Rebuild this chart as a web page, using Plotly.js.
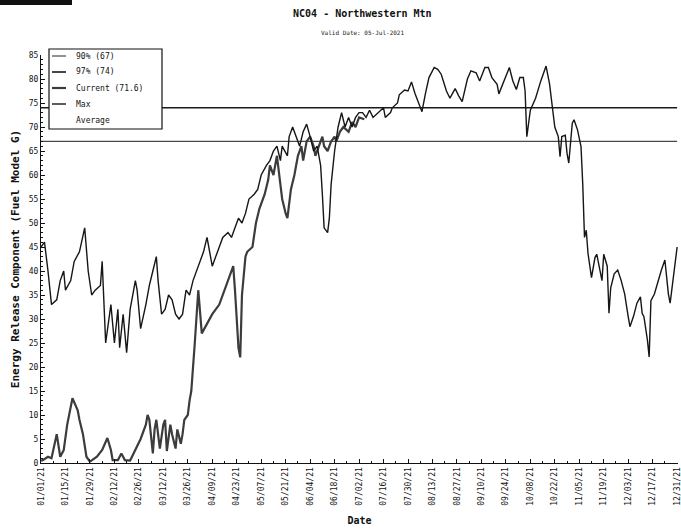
<!DOCTYPE html>
<html>
<head>
<meta charset="utf-8">
<script src="https://cdn.plot.ly/plotly-3.0.1.min.js"></script>
<style>html,body{margin:0;padding:0;background:#fff}#chart{width:681px;height:531px}</style>
</head>
<body>
<div id="chart"></div>
<script>
// ---- data (day of year 2021, 0 = Jan 1) ----
const maxDay = [0,2,4,6,9,11,13,14,17,19,22,25,27,29,31,34,35,37,40,42,44,45,47,49,51,54,55,57,60,62,64,66,67,69,71,73,75,77,79,81,83,85,87,89,91,93,95,97,98,100,102,104,107,109,111,113,115,117,119,122,124,126,129,131,133,135,137,138,141,142,144,146,148,150,152,154,156,158,160,161,162,164,165,166,168,170,172,174,176,178,180,182,184,186,188,190,193,196,197,200,201,204,205,208,210,212,214,217,218,220,222,225,227,229,232,234,237,239,241,244,246,249,251,254,256,258,261,262,265,268,270,272,274,276,277,278,280,283,286,289,291,294,296,297,298,300,301,302,304,305,307,309,310,311,312,313,315,317,318,321,322,324,325,326,328,330,332,334,336,337,339,341,343,344,345,347,348,349,351,353,355,357,359,360,361,364];
const maxERC = [45,46,40,33,34,38,40,36,38,42,44,49,40,35,36,37,42,25,33,25,32,24,31,23,32,38,36,28,33,37,40,43,38,31,32,35,34,31,30,31,36,35,38,40,42,44,47,43,41,43,45,47,48,47,49,51,50,52,55,56,57,60,62,63,65,66,63,66,64,68,70,68,66,69,70.6,68,65,66,62,56,49,48,51,58,65,70,73,70,72,70,72,73,73,72,73.5,72,73,74,72,73,74,75,76.7,77.7,77.5,79.4,77,74.2,73.2,77,80.3,82.4,82,81,77.5,76,78,76.5,75.3,80,81.7,81.3,79.6,82.4,82.4,80.3,78.9,76.9,79.6,82.4,79.6,77.8,80.3,80.3,77.5,68,73.5,76,79.6,82.7,79,70,68,63.8,68,68.3,64.5,62.5,70.8,71.5,69.4,65.9,58,47,48.5,43.7,38.6,42.8,43.5,38,43.5,41,31.2,36.5,39.4,40.2,38,35.2,30.5,28.4,30.5,33.3,34.6,31.2,30.5,25.6,22.1,33.8,35.2,38,40.2,42.3,35.2,33.3,36.5,45];

const curDay = [0,1,4,6,9,11,13,15,18,21,22,24,26,28,32,35,38,40,41,44,46,48,51,54,57,60,61,62,64,65,66,68,70,71,72,74,75,77,78,80,81,82,84,85,86,88,90,92,95,98,102,106,110,111,113,114,115,117,118,121,123,125,128,130,131,133,135,137,138,140,141,143,145,147,149,150,152,154,156,157,159,161,162,164,166,168,169,171,173,176,178,180,182,185];
const curERC = [0.5,0.6,1.3,1,6,1.3,2.7,8,13.5,11,9,6,1.3,0.3,1.3,2.7,5.2,2.7,0.6,0.6,2,0.6,0.5,2.7,5,8,10,9,2,7,9,3,8,9,2.5,8,6,3,7,4,6,9,10,13,15,25,36,27,29,31,33,37,41,36,24,22,35,43,44,45,50,53,56,59,62,60,64,58,55,52,51,57,60,64,66,63,67,68,66,64,66,68,66,65,67,68,67,69,70,69,71,70,72,71.6];

const pct90 = 67;
const pct97 = 74;
const currentValue = 71.6;
const yearSpan = ['2021-01-01', '2021-12-31'];
const seriesNames = ['90% (' + pct90 + ')', '97% (' + pct97 + ')', 'Current (' + currentValue + ')', 'Max', 'Average'];

const tickDates = ['2021-01-01','2021-01-15','2021-01-29','2021-02-12','2021-02-26','2021-03-12','2021-03-26','2021-04-09','2021-04-23','2021-05-07','2021-05-21','2021-06-04','2021-06-18','2021-07-02','2021-07-16','2021-07-30','2021-08-13','2021-08-27','2021-09-10','2021-09-24','2021-10-08','2021-10-22','2021-11-05','2021-11-19','2021-12-03','2021-12-17','2021-12-31'];
const tickText = ['01/01/21','01/15/21','01/29/21','02/12/21','02/26/21','03/12/21','03/26/21','04/09/21','04/23/21','05/07/21','05/21/21','06/04/21','06/18/21','07/02/21','07/16/21','07/30/21','08/13/21','08/27/21','09/10/21','09/24/21','10/08/21','10/22/21','11/05/21','11/19/21','12/03/21','12/17/21','12/31/21'];

function dayToDate(d) {
  const t = new Date(Date.UTC(2021, 0, 1 + d));
  return t.toISOString().slice(0, 10);
}

const mono = 'DejaVu Sans Mono, monospace';
const lineStyles = [
  {color: '#4a4a4a', width: 1.2},
  {color: '#1a1a1a', width: 1.6},
  {color: '#3c3c3c', width: 2.2},
  {color: '#161616', width: 1.4},
  {color: 'rgba(0,0,0,0)', width: 1}
];

const traces = [
  {x: yearSpan, y: [pct90, pct90], name: seriesNames[0], mode: 'lines', line: lineStyles[0]},
  {x: yearSpan, y: [pct97, pct97], name: seriesNames[1], mode: 'lines', line: lineStyles[1]},
  {x: curDay.map(dayToDate), y: curERC, name: seriesNames[2], mode: 'lines', line: lineStyles[2]},
  {x: maxDay.map(dayToDate), y: maxERC, name: seriesNames[3], mode: 'lines', line: lineStyles[3]}
];

// ---- legend box (drawn as shapes + text, inside the plot, top-left) ----
const plotL = 41, plotW = 637, plotB = 463, plotH = 408;
const px = v => (v - plotL) / plotW;
const py = v => (plotB - v) / plotH;

const shapes = [
  {type: 'rect', xref: 'paper', yref: 'paper', x0: px(49), x1: px(162), y0: py(129), y1: py(49),
   fillcolor: '#ffffff', line: {color: '#111', width: 1.2}, layer: 'above'},
  {type: 'rect', xref: 'paper', yref: 'paper', x0: -0.0645, x1: px(72), y0: py(5), y1: py(0),
   fillcolor: '#111', line: {width: 0}, layer: 'above'}
];
const annotations = [
  {text: 'Valid Date: 05-Jul-2021', xref: 'paper', yref: 'paper', x: px(362), y: py(33),
   xanchor: 'center', yanchor: 'middle', showarrow: false, font: {size: 6, color: '#222'}}
];
seriesNames.forEach((name, i) => {
  const yy = 56 + i * 16;
  shapes.push({type: 'line', xref: 'paper', yref: 'paper', x0: px(52), x1: px(66), y0: py(yy), y1: py(yy),
               line: lineStyles[i], layer: 'above'});
  annotations.push({text: name, xref: 'paper', yref: 'paper', x: px(74), y: py(yy),
                    xanchor: 'left', yanchor: 'middle', showarrow: false, font: {size: 8, color: '#111'}});
});

const layout = {
  width: 681, height: 531,
  margin: {l: 41, r: 3, t: 55, b: 68, pad: 0},
  paper_bgcolor: '#ffffff', plot_bgcolor: '#ffffff',
  font: {family: mono, size: 8, color: '#111'},
  showlegend: false,
  title: {text: '<b>NC04 - Northwestern Mtn</b>', x: 0.532, xanchor: 'center', xref: 'container',
          y: 0.975, yanchor: 'middle', yref: 'container', font: {family: mono, size: 10, color: '#111'}},
  xaxis: {
    type: 'date', range: ['2021-01-01', '2021-12-31 12:00'], tickmode: 'array', tickvals: tickDates, ticktext: tickText,
    tickangle: -90, ticks: 'inside', ticklen: 4, tickcolor: '#111', tickfont: {size: 8},
    ticklabeloverflow: 'allow',
    showline: true, linecolor: '#111', linewidth: 1, showgrid: false, zeroline: false,
    minor: {ticks: 'inside', ticklen: 2, tickcolor: '#111', dtick: 7 * 86400000, tick0: '2021-01-01', showgrid: false},
    title: {text: '<b>Date</b>', font: {size: 10}, standoff: 12},
    automargin: false
  },
  yaxis: {
    range: [0, 85], tickmode: 'linear', tick0: 0, dtick: 5,
    ticks: 'inside', ticklen: 4, tickcolor: '#111', tickfont: {size: 8},
    showline: true, linecolor: '#111', linewidth: 1, showgrid: false, zeroline: false,
    minor: {ticks: 'inside', ticklen: 2, tickcolor: '#111', dtick: 1, showgrid: false},
    title: {text: '<b>Energy Release Component (Fuel Model G)</b>', font: {size: 11}, standoff: 6},
    automargin: false
  },
  shapes: shapes,
  annotations: annotations
};

Plotly.newPlot('chart', traces, layout, {displayModeBar: false, staticPlot: true});
</script>
</body>
</html>
